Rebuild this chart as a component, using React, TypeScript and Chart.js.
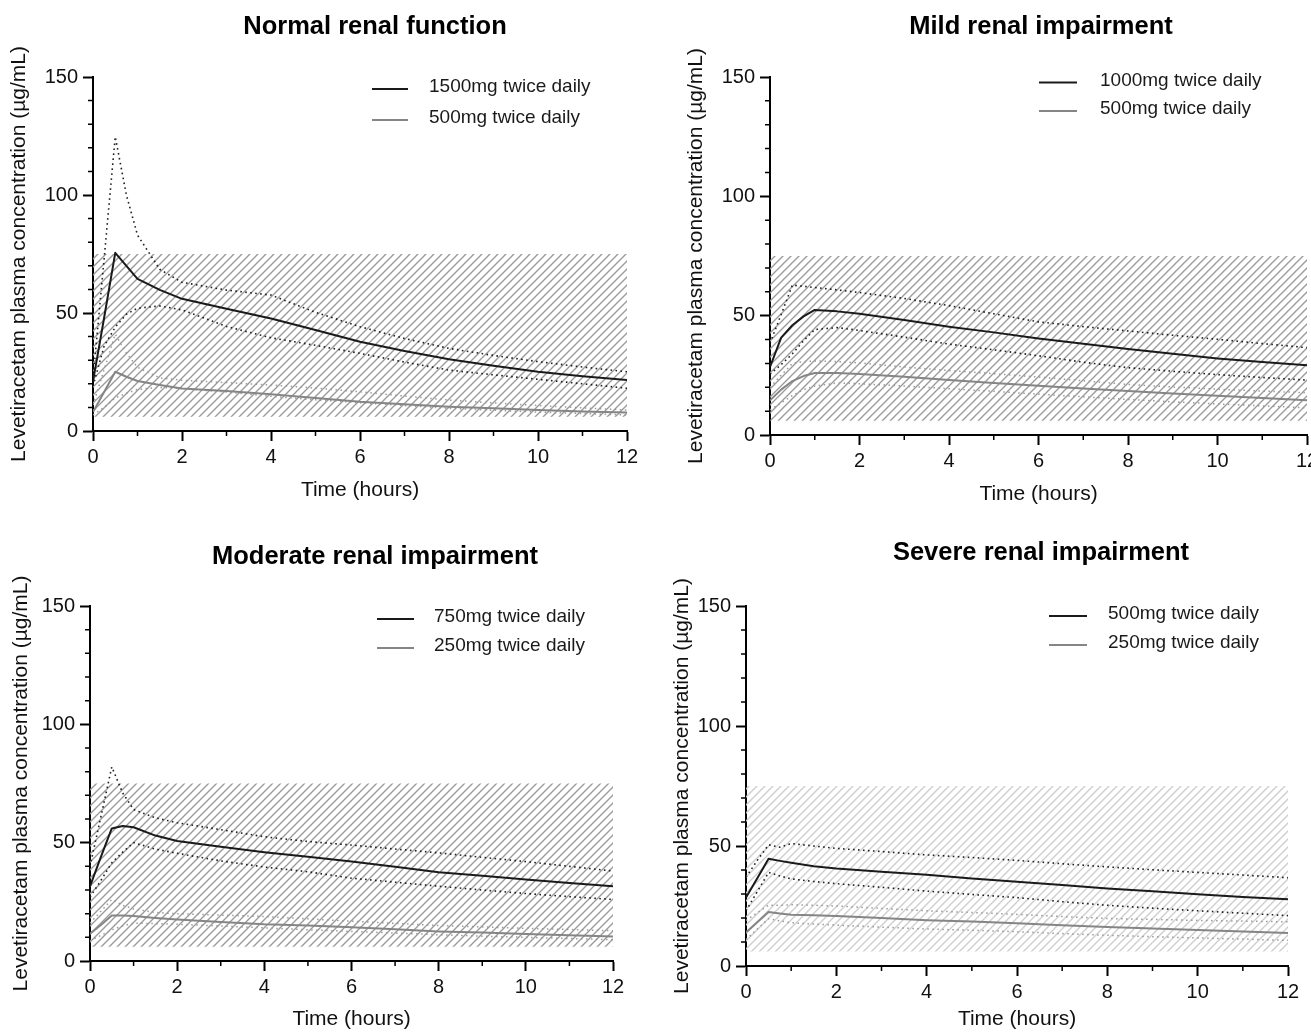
import { useEffect, useRef } from 'react';
import { Chart, registerables } from 'chart.js';

Chart.register(...registerables);

const FONT = "'Liberation Sans', Arial, Helvetica, sans-serif";

// ---------------- data ----------------
const TIME = [0, 0.25, 0.5, 0.75, 1, 1.5, 2, 3, 4, 5, 6, 7, 8, 9, 10, 11, 12];
const X_TICKS = [0, 2, 4, 6, 8, 10, 12];
const X_MINOR = [1, 3, 5, 7, 9, 11];
const Y_TICKS = [0, 50, 100, 150];
const Y_MINOR = [10, 20, 30, 40, 60, 70, 80, 90, 110, 120, 130, 140];
const BAND_LOW = 6;
const BAND_HIGH = 75;
const BAND_X = [0, 12];

const TITLES = ['Normal renal function', 'Mild renal impairment', 'Moderate renal impairment', 'Severe renal impairment'];
const HIGH_DOSE_LABELS = ['1500mg twice daily', '1000mg twice daily', '750mg twice daily', '500mg twice daily'];
const LOW_DOSE_LABELS = ['500mg twice daily', '500mg twice daily', '250mg twice daily', '250mg twice daily'];
const X_TITLE = 'Time (hours)';
const Y_TITLE = 'Levetiracetam plasma concentration (µg/mL)';

// Normal renal function
const NORMAL_HIGH_MED = [21, 48, 75.5, 70, 64.5, 59.8, 56, 51.8, 47.7, 42.8, 37.8, 33.9, 30.4, 27.6, 25.1, 23.2, 21.6];
const NORMAL_HIGH_UP = [22, 73, 124.7, 100, 83, 68.5, 63, 59.7, 57.6, 50.3, 44.2, 39.2, 35, 32, 29.4, 27.1, 25.1];
const NORMAL_HIGH_LO = [19, 36, 44, 49.5, 52, 53, 51.3, 44.3, 39.5, 36.3, 32.9, 29.2, 25.8, 23.8, 21.9, 20, 18.1];
const NORMAL_LOW_MED = [8, 16.5, 25.1, 23, 21.2, 19.5, 18, 16.9, 15.6, 14, 12.4, 11.3, 10.3, 9.6, 8.9, 8.3, 7.8];
const NORMAL_LOW_UP = [11, 26, 41, 33, 27, 22.5, 21.5, 20.5, 19.5, 18.2, 16.6, 14.8, 13.1, 11.9, 10.8, 9.8, 8.9];
const NORMAL_LOW_LO = [6.8, 10, 14, 16, 17.6, 18.5, 18, 16.5, 14.7, 13.2, 12, 10.8, 9.6, 8.8, 8, 7.4, 6.8];

// Mild renal impairment
const MILD_HIGH_MED = [28.5, 40.8, 46, 49.7, 52.4, 51.8, 50.8, 48.2, 45.4, 43, 40.4, 38.2, 36, 34, 32.1, 30.6, 29.2];
const MILD_HIGH_UP = [38.5, 50.5, 62.8, 62.3, 61.8, 60.8, 59.7, 57.2, 54.2, 50.8, 47.4, 45.4, 43.6, 41.8, 40.1, 38.3, 36.6];
const MILD_HIGH_LO = [25.5, 29.5, 34, 39.5, 44.2, 45, 43.8, 41, 38.1, 35.7, 33.2, 30.5, 28.2, 26.7, 25.3, 24.1, 23];
const MILD_LOW_MED = [14.5, 19, 22.6, 24.7, 26, 26, 25.6, 24.4, 23, 21.8, 20.6, 19.5, 18.4, 17.4, 16.4, 15.5, 14.6];
const MILD_LOW_UP = [20, 25, 30, 30.8, 31, 30.8, 30.2, 28.5, 27, 25.7, 24.3, 22.7, 21.2, 20.1, 19.2, 18.4, 17.7];
const MILD_LOW_LO = [10.5, 13.5, 16.5, 19, 20.5, 21.8, 21.5, 20.5, 19.4, 18.3, 17.1, 16, 14.9, 13.9, 13, 12.2, 11.4];

// Moderate renal impairment
const MOD_HIGH_MED = [31.5, 44, 56, 57, 56.5, 53, 50.7, 48.3, 46, 44, 42, 39.8, 37.5, 36, 34.4, 33, 31.6];
const MOD_HIGH_UP = [40, 61, 82, 71, 64, 60.5, 58.4, 55.5, 52.5, 50.5, 49, 47.3, 45.7, 43.8, 42, 40, 38];
const MOD_HIGH_LO = [27, 34, 41.5, 46, 50, 47.3, 45.5, 42.3, 39.7, 37.7, 35, 33.3, 31.6, 30, 28.5, 27.2, 26];
const MOD_LOW_MED = [11.5, 15.2, 19.2, 19.2, 19, 18.2, 17.5, 16.5, 15.5, 15, 14.3, 13.4, 12.5, 12, 11.4, 10.9, 10.4];
const MOD_LOW_UP = [16, 21, 26, 23.5, 22, 20.5, 20, 19.4, 18.8, 17.8, 16.8, 15.9, 15, 14.4, 13.8, 13.3, 12.8];
const MOD_LOW_LO = [8.5, 10.8, 13.2, 14.8, 16, 15.8, 15.5, 14.8, 14, 13.2, 12.5, 11.8, 11.1, 10.5, 10, 9.5, 9];

// Severe renal impairment
const SEV_HIGH_MED = [28.5, 36.6, 44.7, 43.8, 43, 41.6, 40.6, 39.3, 38, 36.5, 35.1, 33.7, 32.3, 31.1, 29.9, 28.8, 27.8];
const SEV_HIGH_UP = [37, 44, 50.5, 49.5, 51, 50, 49, 47.7, 46.3, 45.2, 44, 42.6, 41.3, 40.1, 39, 37.9, 36.8];
const SEV_HIGH_LO = [23, 31, 39, 37.5, 36.3, 35.2, 34.3, 32.8, 31.2, 29.8, 28.5, 26.8, 25.3, 24.1, 23, 22, 21];
const SEV_LOW_MED = [14, 18.2, 22.5, 21.9, 21.4, 21.1, 20.8, 20, 19.1, 18.5, 17.8, 17, 16.3, 15.6, 15, 14.4, 13.8];
const SEV_LOW_UP = [19, 22.2, 25.3, 25.3, 25.5, 25.3, 25, 24, 23, 22.3, 21.5, 20.6, 19.8, 19.4, 19, 18.7, 18.4];
const SEV_LOW_LO = [11, 15.4, 19.7, 18.8, 18, 17.5, 17, 16.2, 15.4, 14.9, 14.3, 13.5, 12.8, 12.2, 11.7, 11.2, 10.7];

const SERIES = [
  [NORMAL_HIGH_MED, NORMAL_HIGH_UP, NORMAL_HIGH_LO, NORMAL_LOW_MED, NORMAL_LOW_UP, NORMAL_LOW_LO],
  [MILD_HIGH_MED, MILD_HIGH_UP, MILD_HIGH_LO, MILD_LOW_MED, MILD_LOW_UP, MILD_LOW_LO],
  [MOD_HIGH_MED, MOD_HIGH_UP, MOD_HIGH_LO, MOD_LOW_MED, MOD_LOW_UP, MOD_LOW_LO],
  [SEV_HIGH_MED, SEV_HIGH_UP, SEV_HIGH_LO, SEV_LOW_MED, SEV_LOW_UP, SEV_LOW_LO],
];

// ---------------- layout / style ----------------
const LAYOUT = [
  { left: 0, top: 0, w: 655, h: 520, pad: { left: 7, top: 77, right: 28, bottom: 17 }, yw: 86, xh: 72,
    title: [375, 27], leg: { x1: 372, x2: 408, tx: 429, y1: 89, y2: 120 }, hatch: '#999999' },
  { left: 655, top: 0, w: 656, h: 520, pad: { left: 29, top: 77, right: 4, bottom: 13 }, yw: 86, xh: 72,
    title: [386, 27], leg: { x1: 384, x2: 422, tx: 445, y1: 82.5, y2: 111 }, hatch: '#999999' },
  { left: 0, top: 520, w: 655, h: 512, pad: { left: 9, top: 86, right: 42, bottom: 0 }, yw: 81, xh: 71,
    title: [375, 37], leg: { x1: 377, x2: 414, tx: 434, y1: 99, y2: 128 }, hatch: '#999999' },
  { left: 655, top: 520, w: 656, h: 512, pad: { left: 15, top: 86, right: 23, bottom: 0 }, yw: 76, xh: 66,
    title: [386, 33], leg: { x1: 394, x2: 432, tx: 453, y1: 96, y2: 125 }, hatch: '#cdcdcd' },
];

const BLACK = '#1a1a1a';
const GRAY = '#858585';
const BLACK_DOT = '#1f1f1f';
const GRAY_DOT = '#9a9a9a';

function makeHatch(color: string) {
  const s = 8;
  const c = document.createElement('canvas');
  c.width = s;
  c.height = s;
  const g = c.getContext('2d')!;
  g.strokeStyle = color;
  g.lineWidth = 1.35;
  g.lineCap = 'square';
  g.beginPath();
  g.moveTo(-1, s + 1);
  g.lineTo(s + 1, -1);
  g.moveTo(-1, 1);
  g.lineTo(1, -1);
  g.moveTo(s - 1, s + 1);
  g.lineTo(s + 1, s - 1);
  g.stroke();
  return g.createPattern(c, 'repeat');
}

function lineDs(values: number[], color: string, width: number, dash: number[]) {
  return {
    data: TIME.map((t, i) => ({ x: t, y: values[i] })),
    borderColor: color,
    borderWidth: width,
    borderDash: dash,
    borderCapStyle: 'butt',
    borderJoinStyle: 'round',
    pointRadius: 0,
    tension: 0,
    fill: false,
  };
}

function Panel({ idx }: { idx: number }) {
  const ref = useRef<HTMLCanvasElement>(null);
  const L = LAYOUT[idx];
  useEffect(() => {
    const [hm, hu, hl, lm, lu, ll] = SERIES[idx];
    const hatch = makeHatch(L.hatch);
    const decor = {
      id: 'decor' + idx,
      afterDraw(chart: any) {
        const { ctx, chartArea } = chart;
        const xs = chart.scales.x;
        const ys = chart.scales.y;
        ctx.save();
        // minor ticks
        ctx.strokeStyle = '#000';
        ctx.lineWidth = 1.5;
        ctx.beginPath();
        for (const v of Y_MINOR) {
          const y = ys.getPixelForValue(v);
          ctx.moveTo(chartArea.left - 5, y);
          ctx.lineTo(chartArea.left, y);
        }
        for (const v of X_MINOR) {
          const x = xs.getPixelForValue(v);
          ctx.moveTo(x, chartArea.bottom);
          ctx.lineTo(x, chartArea.bottom + 5);
        }
        ctx.stroke();
        // panel title
        ctx.fillStyle = '#000';
        ctx.textAlign = 'center';
        ctx.textBaseline = 'middle';
        ctx.font = `bold 25.5px ${FONT}`;
        ctx.fillText(TITLES[idx], L.title[0], L.title[1]);
        // legend
        const lg = L.leg;
        ctx.lineWidth = 2;
        ctx.strokeStyle = BLACK;
        ctx.beginPath();
        ctx.moveTo(lg.x1, lg.y1);
        ctx.lineTo(lg.x2, lg.y1);
        ctx.stroke();
        ctx.strokeStyle = GRAY;
        ctx.beginPath();
        ctx.moveTo(lg.x1, lg.y2);
        ctx.lineTo(lg.x2, lg.y2);
        ctx.stroke();
        ctx.font = `19px ${FONT}`;
        ctx.fillStyle = '#1a1a1a';
        ctx.textAlign = 'left';
        ctx.fillText(HIGH_DOSE_LABELS[idx], lg.tx, lg.y1 - 2);
        ctx.fillText(LOW_DOSE_LABELS[idx], lg.tx, lg.y2 - 2);
        ctx.restore();
      },
    };

    const chart = new Chart(ref.current!, {
      type: 'line',
      data: {
        datasets: [
          lineDs(hm, BLACK, 2, []),
          lineDs(lm, GRAY, 2, []),
          lineDs(hu, BLACK_DOT, 1.6, [1.6, 3.4]),
          lineDs(hl, BLACK_DOT, 1.6, [1.6, 3.4]),
          lineDs(lu, GRAY_DOT, 1.5, [1.5, 3.5]),
          lineDs(ll, GRAY_DOT, 1.5, [1.5, 3.5]),
          {
            data: BAND_X.map((x) => ({ x, y: BAND_HIGH })),
            borderWidth: 0,
            borderColor: 'rgba(0,0,0,0)',
            backgroundColor: hatch,
            pointRadius: 0,
            fill: '+1',
          },
          {
            data: BAND_X.map((x) => ({ x, y: BAND_LOW })),
            borderWidth: 0,
            borderColor: 'rgba(0,0,0,0)',
            pointRadius: 0,
            fill: false,
          },
        ] as any,
      },
      options: {
        responsive: false,
        animation: false,
        devicePixelRatio: 1,
        layout: { padding: L.pad },
        plugins: { legend: { display: false }, tooltip: { enabled: false }, title: { display: false } },
        events: [],
        scales: {
          x: {
            type: 'linear',
            min: 0,
            max: 12,
            afterBuildTicks: (s: any) => {
              s.ticks = X_TICKS.map((v) => ({ value: v }));
            },
            afterFit: (s: any) => {
              s.height = L.xh;
              s.paddingLeft = 0;
              s.paddingRight = 0;
            },
            grid: { display: true, drawOnChartArea: false, drawTicks: true, tickLength: 10, tickWidth: 2, tickColor: '#000' },
            border: { display: true, color: '#000', width: 2 },
            ticks: { color: '#111', font: { size: 20, family: FONT }, padding: 4, maxRotation: 0, autoSkip: false },
            title: { display: true, text: X_TITLE, color: '#111', font: { size: 21, family: FONT }, padding: { top: 0, bottom: 0 } },
          },
          y: {
            type: 'linear',
            min: 0,
            max: 150,
            afterBuildTicks: (s: any) => {
              s.ticks = Y_TICKS.map((v) => ({ value: v }));
            },
            afterFit: (s: any) => {
              s.width = L.yw;
              s.paddingTop = 0;
              s.paddingBottom = 0;
            },
            grid: { display: true, drawOnChartArea: false, drawTicks: true, tickLength: 10, tickWidth: 2, tickColor: '#000' },
            border: { display: true, color: '#000', width: 2 },
            ticks: { color: '#111', font: { size: 20, family: FONT }, padding: 5, autoSkip: false },
            title: { display: true, text: Y_TITLE, color: '#111', font: { size: 21, family: FONT }, padding: { top: 0, bottom: 0 } },
          },
        },
      } as any,
      plugins: [decor],
    });
    return () => chart.destroy();
  }, []);
  return (
    <canvas
      ref={ref}
      width={L.w}
      height={L.h}
      style={{ position: 'absolute', left: L.left, top: L.top, width: L.w, height: L.h }}
    />
  );
}

export default function App() {
  return (
    <div style={{ position: 'absolute', left: 0, top: 0, width: 1311, height: 1032, background: '#fff', overflow: 'hidden' }}>
      {[0, 1, 2, 3].map((i) => (
        <Panel key={i} idx={i} />
      ))}
    </div>
  );
}
